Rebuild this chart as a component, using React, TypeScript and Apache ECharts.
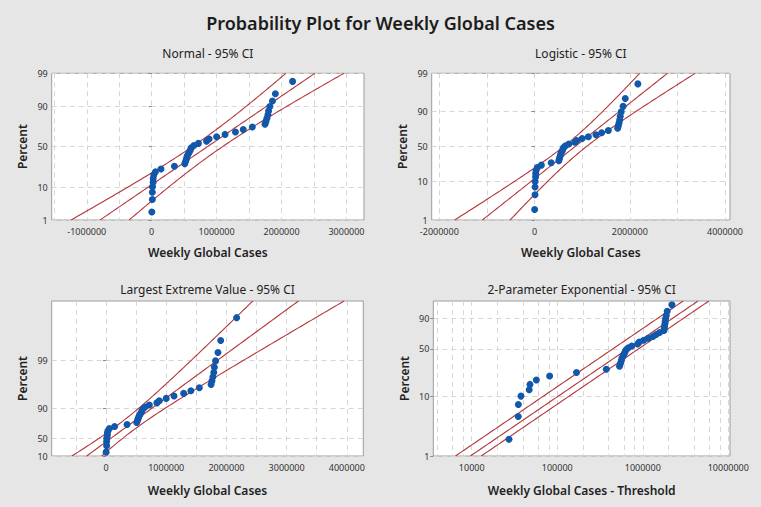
import React, { useEffect, useRef } from 'react';
import * as echarts from 'echarts';

// ---------- texts ----------
const TITLE = 'Probability Plot for Weekly Global Cases';
const PANEL_TITLES = ['Normal - 95% CI', 'Logistic - 95% CI', 'Largest Extreme Value - 95% CI', '2-Parameter Exponential - 95% CI'];
const X_NAMES = ['Weekly Global Cases', 'Weekly Global Cases', 'Weekly Global Cases', 'Weekly Global Cases - Threshold'];
const Y_NAME = 'Percent';

// ---------- data (sorted weekly global cases) ----------
const WEEKLY_CASES = [
  2300, 10000, 10100, 12700, 22000, 23000, 32000, 56500, 143000, 350000,
  510000, 523000, 535000, 545000, 560000, 580000, 595000, 610000, 650000, 720000,
  845000, 885000, 1000000, 1130000, 1290000, 1410000, 1550000, 1745000, 1760000, 1775000,
  1790000, 1800000, 1820000, 1860000, 1905000, 2170000,
];

// ---------- fitted parameters ----------
const NORMAL_FIT = { loc: 859000, scale: 711000 };
const LOGISTIC_FIT = { loc: 848000, scale: 423000 };
const LEV_FIT = { loc: 556000, scale: 574000 };
const EXP_THRESHOLD = -25000;
const EXP_SCALE = 960000;
const EXP_CI_FACTORS = [0.67, 1.34];
const Z_95 = 1.96;

// ---------- y tick percents / labels ----------
const PCT_NORMAL = [1, 10, 50, 90, 99];
const LABEL_NORMAL = ['1', '10', '50', '90', '99'];
const PCT_LOGISTIC = [1, 10, 50, 90, 99];
const LABEL_LOGISTIC = ['1', '10', '50', '90', '99'];
const PCT_LEV = [1, 10, 50, 90];
const LABEL_LEV = ['10', '50', '90', '99'];
const PCT_EXP = [1, 10, 50, 90];
const LABEL_EXP = ['1', '10', '50', '90'];
const PCT_RANGE = [1, 99];

// ---------- x ticks ----------
const X_RANGE_NORMAL = [-1540000, 3270000];
const X_LABELS_NORMAL = [-1000000, 0, 1000000, 2000000, 3000000];
const X_GRID_NORMAL = [-1500000, -1000000, -500000, 0, 500000, 1000000, 1500000, 2000000, 2500000, 3000000];
const X_RANGE_LOGISTIC = [-2160000, 4105000];
const X_LABELS_LOGISTIC = [-2000000, 0, 2000000, 4000000];
const X_GRID_LOGISTIC = [-2000000, -1000000, 0, 1000000, 2000000, 3000000, 4000000];
const X_RANGE_LEV = [-902000, 4274000];
const X_LABELS_LEV = [0, 1000000, 2000000, 3000000, 4000000];
const X_GRID_LEV = [-500000, 0, 500000, 1000000, 1500000, 2000000, 2500000, 3000000, 3500000, 4000000];
const X_RANGE_EXP = [3556, 10470000];
const X_LABELS_EXP = [10000, 100000, 1000000, 10000000];
const X_GRID_EXP = [4000, 6000, 8000, 10000, 20000, 40000, 60000, 80000, 100000, 200000, 400000, 600000, 800000,
  1000000, 2000000, 4000000, 6000000, 8000000, 10000000];

// ---------- layout ----------
const GRIDS = [
  { left: 51.7, top: 73.3, width: 312.3, height: 146.7 },
  { left: 431.7, top: 73.3, width: 298.3, height: 146.7 },
  { left: 51.7, top: 301, width: 311.6, height: 155 },
  { left: 433.3, top: 301, width: 296.7, height: 155 },
];
const FONT = 'Noto Sans';
const POINT_COLOR = '#1157aa';
const LINE_COLOR = '#b4363a';

// ---------- transforms ----------
function normInv(p: number): number {
  const a = [-3.969683028665376e1, 2.209460984245205e2, -2.759285104469687e2, 1.38357751867269e2, -3.066479806614716e1, 2.506628277459239];
  const b = [-5.447609879822406e1, 1.615858368580409e2, -1.556989798598866e2, 6.680131188771972e1, -1.328068155288572e1];
  const c = [-7.784894002430293e-3, -3.223964580411365e-1, -2.400758277161838, -2.549671010422195, 4.374664141464968, 2.938163982698783];
  const d = [7.784695709041462e-3, 3.224671290700398e-1, 2.445134137142996, 3.754408661907416];
  const pl = 0.02425;
  if (p < pl) {
    const q = Math.sqrt(-2 * Math.log(p));
    return (((((c[0] * q + c[1]) * q + c[2]) * q + c[3]) * q + c[4]) * q + c[5]) / ((((d[0] * q + d[1]) * q + d[2]) * q + d[3]) * q + 1);
  }
  if (p <= 1 - pl) {
    const q = p - 0.5;
    const r = q * q;
    return ((((((a[0] * r + a[1]) * r + a[2]) * r + a[3]) * r + a[4]) * r + a[5]) * q) / (((((b[0] * r + b[1]) * r + b[2]) * r + b[3]) * r + b[4]) * r + 1);
  }
  const q = Math.sqrt(-2 * Math.log(1 - p));
  return -(((((c[0] * q + c[1]) * q + c[2]) * q + c[3]) * q + c[4]) * q + c[5]) / ((((d[0] * q + d[1]) * q + d[2]) * q + d[3]) * q + 1);
}
const logit = (p: number) => Math.log(p / (1 - p));
const levT = (p: number) => -Math.log(-Math.log(p));
const expT = (p: number) => Math.log(-Math.log(1 - p));

type Panel = {
  T: (p: number) => number;
  pcts: number[];
  labels: string[];
  xType: 'value' | 'log';
  xRange: number[];
  xLabels: number[];
  xGrid: number[];
  xOf: (v: number) => number;
  center: (y: number) => number;
  lower: (y: number) => number;
  upper: (y: number) => number;
};

function buildPanels(): Panel[] {
  const n = WEEKLY_CASES.length;
  const lin = (fit: { loc: number; scale: number }, se: (y: number) => number) => ({
    center: (y: number) => fit.loc + fit.scale * y,
    lower: (y: number) => fit.loc + fit.scale * y - Z_95 * fit.scale * se(y),
    upper: (y: number) => fit.loc + fit.scale * y + Z_95 * fit.scale * se(y),
  });
  return [
    {
      T: normInv, pcts: PCT_NORMAL, labels: LABEL_NORMAL, xType: 'value', xRange: X_RANGE_NORMAL,
      xLabels: X_LABELS_NORMAL, xGrid: X_GRID_NORMAL, xOf: (v) => v,
      ...lin(NORMAL_FIT, (y) => Math.sqrt((1 + (y * y) / 2) / n)),
    },
    {
      T: logit, pcts: PCT_LOGISTIC, labels: LABEL_LOGISTIC, xType: 'value', xRange: X_RANGE_LOGISTIC,
      xLabels: X_LABELS_LOGISTIC, xGrid: X_GRID_LOGISTIC, xOf: (v) => v,
      ...lin(LOGISTIC_FIT, (y) => Math.sqrt((3 + (9 * y * y) / (Math.PI * Math.PI + 3)) / n)),
    },
    {
      T: levT, pcts: PCT_LEV, labels: LABEL_LEV, xType: 'value', xRange: X_RANGE_LEV,
      xLabels: X_LABELS_LEV, xGrid: X_GRID_LEV, xOf: (v) => v,
      ...lin(LEV_FIT, (y) => Math.sqrt((1.1087 + 0.514 * y + 0.6079 * y * y) / n)),
    },
    {
      T: expT, pcts: PCT_EXP, labels: LABEL_EXP, xType: 'log', xRange: X_RANGE_EXP,
      xLabels: X_LABELS_EXP, xGrid: X_GRID_EXP, xOf: (v) => v - EXP_THRESHOLD,
      center: (y) => EXP_SCALE * Math.exp(y),
      lower: (y) => EXP_SCALE * Math.exp(y) * EXP_CI_FACTORS[0],
      upper: (y) => EXP_SCALE * Math.exp(y) * EXP_CI_FACTORS[1],
    },
  ];
}

function buildOption() {
  const panels = buildPanels();
  const n = WEEKLY_CASES.length;
  const sorted = [...WEEKLY_CASES].sort((a, b) => a - b);
  const series: any[] = [];
  const xAxis: any[] = [];
  const yAxis: any[] = [];

  panels.forEach((pn, i) => {
    const yMin = pn.T(PCT_RANGE[0] / 100);
    const yMax = pn.T(PCT_RANGE[1] / 100);
    const yTicks = pn.pcts.map((p) => pn.T(p / 100));

    xAxis.push({
      gridIndex: i,
      type: pn.xType,
      logBase: 10,
      min: pn.xRange[0],
      max: pn.xRange[1],
      name: X_NAMES[i],
      nameLocation: 'middle',
      nameGap: i < 2 ? 26 : 28,
      nameTextStyle: { fontSize: 12, color: '#222', fontFamily: FONT, fontWeight: 600 },
      axisLine: { show: false },
      axisTick: { show: false, customValues: pn.xGrid },
      axisLabel: {
        customValues: pn.xLabels,
        formatter: (v: number) => String(Math.round(v)),
        fontSize: 9,
        color: '#333',
        fontFamily: FONT,
        margin: 7,
      },
      splitLine: { show: true, lineStyle: { type: [5, 4], color: '#d6d6d6', width: 1 } },
    });

    yAxis.push({
      gridIndex: i,
      type: 'value',
      min: yMin,
      max: yMax,
      name: Y_NAME,
      nameLocation: 'middle',
      nameGap: 23,
      nameTextStyle: { fontSize: 12, color: '#222', fontFamily: FONT, fontWeight: 600 },
      axisLine: { show: false },
      axisTick: { show: true, length: 3, customValues: yTicks, lineStyle: { color: '#888' } },
      axisLabel: {
        customValues: yTicks,
        formatter: (v: number) => {
          const k = yTicks.findIndex((t) => Math.abs(t - v) < 1e-6);
          return k >= 0 ? pn.labels[k] : '';
        },
        fontSize: 9,
        color: '#333',
        fontFamily: FONT,
        margin: 4,
      },
      splitLine: { show: true, lineStyle: { type: [5, 4], color: '#d6d6d6', width: 1 } },
    });

    const steps = 80;
    const ys: number[] = [];
    for (let s = 0; s <= steps; s++) ys.push(yMin + ((yMax - yMin) * s) / steps);
    [pn.lower, pn.center, pn.upper].forEach((f) => {
      series.push({
        type: 'line',
        xAxisIndex: i,
        yAxisIndex: i,
        data: ys.map((y) => [f(y), y]),
        showSymbol: false,
        symbol: 'none',
        lineStyle: { color: LINE_COLOR, width: 1.1 },
        clip: true,
        z: 2,
        silent: true,
      });
    });

    series.push({
      type: 'scatter',
      xAxisIndex: i,
      yAxisIndex: i,
      symbolSize: 7,
      itemStyle: { color: POINT_COLOR, opacity: 1 },
      data: sorted.map((v, k) => [pn.xOf(v), pn.T((k + 1 - 0.3) / (n + 0.4))]),
      z: 3,
      clip: true,
    });
  });

  const graphic: any[] = [
    {
      type: 'text',
      x: 380.5,
      y: 23,
      style: {
        text: TITLE,
        fontSize: 18,
        fontWeight: 600,
        fontFamily: FONT,
        fill: '#1c1c1c',
        align: 'center',
        textAlign: 'center',
        verticalAlign: 'middle',
        textVerticalAlign: 'middle',
      },
    },
    ...GRIDS.map((g, i) => ({
      type: 'text',
      x: g.left + g.width / 2,
      y: g.top - (i < 2 ? 19.5 : 11.5),
      style: {
        text: PANEL_TITLES[i],
        fontSize: 12,
        fontFamily: FONT,
        fill: '#222',
        align: 'center',
        textAlign: 'center',
        verticalAlign: 'middle',
        textVerticalAlign: 'middle',
      },
    })),
  ];

  return {
    animation: false,
    backgroundColor: '#e6e6e6',
    textStyle: { fontFamily: FONT },
    grid: GRIDS.map((g) => ({
      ...g,
      show: true,
      backgroundColor: '#ffffff',
      borderColor: '#9d9d9d',
      borderWidth: 1,
      containLabel: false,
    })),
    xAxis,
    yAxis,
    series,
    graphic,
  };
}

export default function App() {
  const ref = useRef<HTMLDivElement>(null);
  useEffect(() => {
    if (!ref.current) return;
    const chart = echarts.init(ref.current, undefined, { renderer: 'svg' });
    chart.setOption(buildOption() as any);
    return () => chart.dispose();
  }, []);
  return <div ref={ref} style={{ position: 'fixed', left: 0, top: 0, width: 761, height: 507 }} />;
}
